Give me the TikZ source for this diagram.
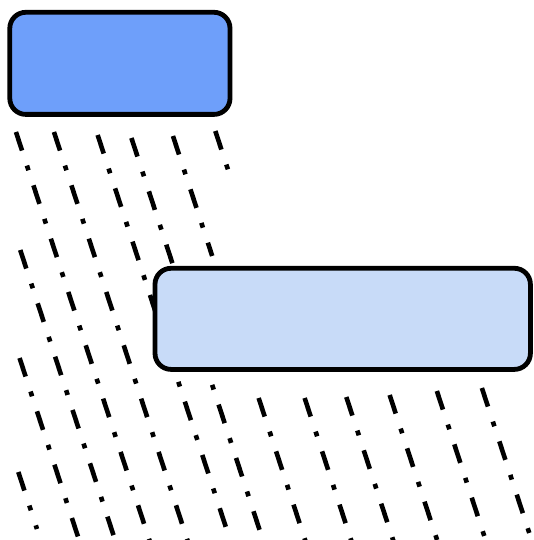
\documentclass[tikz,border=0pt]{standalone}
\definecolor{topfill}{RGB}{110,159,250}
\definecolor{lowfill}{RGB}{200,219,248}
\tikzset{
  box/.style={draw=black, line width=4.8pt, rounded corners=16pt, inner sep=0pt},
  rain/.style={line width=4.6pt, dash pattern=on 19.5pt off 15.8pt on 5pt off 15.8pt},
}
\newcommand{\rainline}[4]{%
  \coordinate (#1a) at ({#2+0.327*#3},#3);
  \coordinate (#1b) at ({#2+0.327*#4},#4);
  \draw[rain] (#1a) -- (#1b);}
\begin{document}
\begin{tikzpicture}[x=1pt,y=-1pt]
\useasboundingbox (0,0) rectangle (533,540);
\rainline{m2}{-136}{472}{529}
\rainline{m1}{-97.5}{358}{542}
\rainline{z}{-61.5}{250}{542}
\rainline{a}{-27.2}{132}{542}
\rainline{b}{10.8}{132}{542}
\rainline{c}{53.5}{135}{542}
\rainline{d}{86.3}{138}{542}
\rainline{e}{128.5}{136}{256}
\rainline{ee}{128.5}{398}{542}
\rainline{f}{172.5}{131}{175}
\rainline{ff}{174.5}{398}{542}
\rainline{g}{216.5}{397}{542}
\rainline{h}{260.5}{395}{542}
\rainline{i}{309}{391}{542}
\rainline{j}{355}{388}{542}
\node[box, fill=topfill, minimum width=220.2pt, minimum height=102.1pt] (top) at (119.9,63.35) {};
\node[box, fill=lowfill, minimum width=375.4pt, minimum height=101.1pt] (low) at (342.7,318.85) {};
\end{tikzpicture}
\end{document}
